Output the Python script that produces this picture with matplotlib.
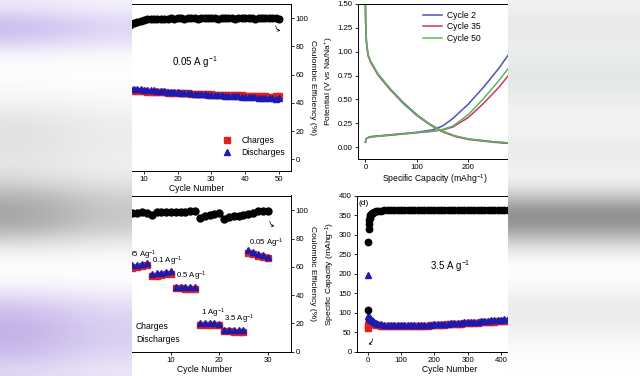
import numpy as np
import matplotlib
matplotlib.use("Agg")
import matplotlib.pyplot as plt
from matplotlib.colors import to_rgb

plt.rcParams['font.family'] = ['Liberation Sans', 'DejaVu Sans']
plt.rcParams['font.size'] = 5.6
plt.rcParams['mathtext.fontset'] = 'custom'
plt.rcParams['mathtext.rm'] = 'Liberation Sans'
plt.rcParams['mathtext.it'] = 'Liberation Sans:italic'
plt.rcParams['axes.linewidth'] = 0.7
plt.rcParams['xtick.major.width'] = 0.6
plt.rcParams['ytick.major.width'] = 0.6
plt.rcParams['xtick.major.size'] = 2.2
plt.rcParams['ytick.major.size'] = 2.2
plt.rcParams['xtick.major.pad'] = 1.5
plt.rcParams['ytick.major.pad'] = 1.5

W, H = 640, 376
RED = "#e3211c"
BLUE = "#1c1ab0"

# --- (a) 0.05 A/g cycling, 50 cycles ---
cycles_a = list(range(1, 51))
ce_a = [62, 80, 87, 91, 93.5, 95, 96.5, 97.5, 98.3, 98.9, 99.3, 99.5, 99.6, 99.6, 99.7,
        99.7, 99.7, 99.8, 99.7, 99.8, 99.8, 99.7, 99.8, 99.8, 99.8, 99.7, 99.8, 99.8, 99.8, 99.8,
        99.8, 99.7, 99.8, 99.8, 99.8, 99.8, 99.7, 99.8, 99.8, 99.8, 99.8, 99.8, 99.7, 99.8, 99.8,
        99.8, 99.8, 99.8, 99.8, 99.7]
charge_a = [40, 46, 48, 48.5, 48.8, 48.8, 48.6, 48.5, 48.3, 48.2, 48.0, 47.9, 47.8, 47.6, 47.5,
            47.4, 47.3, 47.2, 47.1, 47.0, 46.9, 46.8, 46.7, 46.6, 46.5, 46.4, 46.3, 46.2, 46.1, 46.0,
            45.9, 45.8, 45.8, 45.7, 45.6, 45.5, 45.4, 45.4, 45.3, 45.2, 45.1, 45.0, 44.9, 44.8, 44.7,
            44.6, 44.5, 44.4, 44.6, 45.0]
discharge_a = [70, 52, 51, 50.5, 50.3, 50.2, 50.0, 49.8, 49.6, 49.4, 49.2, 49.0, 48.8, 48.6, 48.4,
               48.2, 48.0, 47.8, 47.6, 47.4, 47.2, 47.0, 46.9, 46.7, 46.5, 46.4, 46.2, 46.0, 45.9, 45.7,
               45.6, 45.4, 45.3, 45.1, 45.0, 44.9, 44.7, 44.6, 44.5, 44.3, 44.2, 44.1, 43.9, 43.8, 43.7,
               43.5, 43.4, 43.3, 43.1, 43.6]

# --- (b) voltage profiles ---
cap_dis = [0, 0.5, 2, 5, 10, 25, 50, 75, 100, 125, 150, 175, 200, 250, 300]
v_dis_2 = [1.5, 1.3, 1.1, 0.97, 0.9, 0.76, 0.6, 0.46, 0.34, 0.24, 0.165, 0.115, 0.085, 0.055, 0.035]
v_dis_35 = [1.5, 1.3, 1.1, 0.96, 0.89, 0.75, 0.59, 0.45, 0.33, 0.235, 0.16, 0.11, 0.08, 0.05, 0.03]
v_dis_50 = [1.5, 1.3, 1.1, 0.97, 0.9, 0.76, 0.6, 0.45, 0.335, 0.24, 0.165, 0.115, 0.085, 0.055, 0.035]
cap_ch = [0, 1, 3, 10, 50, 100, 130, 150, 170, 200, 230, 260, 290]
v_ch_2 = [0.05, 0.08, 0.095, 0.11, 0.13, 0.155, 0.18, 0.22, 0.3, 0.45, 0.63, 0.83, 1.06]
v_ch_35 = [0.05, 0.08, 0.095, 0.105, 0.125, 0.15, 0.165, 0.18, 0.21, 0.31, 0.46, 0.63, 0.83]
v_ch_50 = [0.05, 0.08, 0.095, 0.107, 0.127, 0.152, 0.168, 0.185, 0.22, 0.34, 0.51, 0.7, 0.91]
cycle_labels = ["Cycle 2", "Cycle 35", "Cycle 50"]
cycle_colors = ["#4657b5", "#d62f6e", "#57b85c"]

# --- (c) rate capability, 30 cycles ---
cycles_c = list(range(1, 31))
ce_c = [97.5, 98.2, 98.3, 98.5, 98.4, 96.5, 98.5, 98.8, 98.9, 98.8, 98.9, 99.0, 99.1, 99.4, 99.5,
        94.8, 96.2, 96.8, 97.2, 97.8, 94.0, 95.3, 95.8, 96.2, 96.8, 97.6, 98.0, 99.5, 99.6, 99.8]
charge_c = [59.0, 59.5, 60.0, 60.5, 61.0, 53.2, 53.7, 54.2, 54.7, 55.2, 44.8, 44.8, 44.7, 44.7, 44.6,
            19.0, 19.0, 19.0, 18.9, 18.9, 14.3, 14.3, 14.2, 14.2, 14.2, 70.0, 69.0, 68.0, 67.0, 66.0]
discharge_c = [60.5, 61.0, 61.5, 62.0, 62.5, 55.0, 55.5, 56.0, 56.5, 57.0, 45.8, 45.8, 45.8, 45.7, 45.7,
               20.1, 20.1, 20.0, 20.0, 19.9, 15.3, 15.3, 15.2, 15.2, 15.1, 72.0, 70.6, 69.2, 68.1, 67.2]
rate_labels = ["0.05 Ag$^{-1}$", "0.1 Ag$^{-1}$", "0.5 Ag$^{-1}$", "1 Ag$^{-1}$", "3.5 Ag$^{-1}$", "0.05 Ag$^{-1}$"]

# --- (d) 3.5 A/g long cycling ---
cycles_d = [1, 2, 3, 4, 5, 6, 7, 8, 10, 12, 15, 20, 25, 30, 40, 50, 60, 70, 80, 90, 100,
            110, 120, 130, 140, 150, 160, 170, 180, 190, 200, 210, 220, 230, 240, 250,
            260, 270, 280, 290, 300, 310, 320, 330, 340, 350, 360, 370, 380, 390, 400,
            410, 420, 430, 440, 450, 460, 470, 480, 490, 500]
ce_d = [108, 281, 313, 328, 337, 342, 346, 349, 352, 354, 356, 358, 359.5, 360.5, 361.5, 362, 362, 362, 362.5, 362, 362.5,
        362, 362.5, 362, 362.5, 362.5, 362, 362.5, 362.5, 362, 362.5, 362.5, 362, 362.5, 362.5, 362,
        362.5, 362.5, 362, 362.5, 362.5, 362.5, 362, 362.5, 362.5, 362.5, 362, 362.5, 362.5, 362.5, 362.5,
        362, 362.5, 362.5, 362.5, 362, 362.5, 362.5, 362.5, 362.5, 362.5]
charge_d = [60, 68, 72, 74, 75, 75, 75, 74, 73, 72, 71, 70, 69, 68, 67, 66.5, 66, 65.5, 65.5, 65.5, 65.5,
            65.5, 65.5, 65.5, 66, 66, 66.5, 66.5, 67, 67.5, 68, 68.5, 69, 69.5, 70, 70.5,
            71, 71.5, 72, 72.5, 73, 73.5, 74, 74.5, 75, 75.5, 76, 76.5, 77, 77.5, 78,
            78.5, 79, 79.5, 80, 80.5, 81, 81.5, 82, 82.5, 83]
discharge_d = [197, 92, 90, 88, 87, 86, 85, 84, 82, 80, 78, 75.5, 73.5, 72, 70, 69, 68, 67.5, 67.5, 67.5, 67.5,
               67.5, 67.5, 67.5, 67.8, 68, 68.3, 68.6, 69, 69.5, 70, 70.5, 71, 71.5, 72, 72.5,
               73, 73.6, 74.2, 74.8, 75.5, 76, 76.6, 77.2, 77.8, 78.5, 79.2, 79.9, 80.6, 81.3, 82,
               82.5, 83, 83.5, 84, 84.5, 85, 85.5, 86, 86.5, 87]

# blurred backdrop colours (rows from top), left and right of the figure strip
bg_left = ["#eee8f8", "#c6b8ee", "#d4c8f2", "#f8f8fa", "#ffffff", "#fbfbfb", "#f3f3f3", "#e6e6e6",
           "#e0e0e0", "#e2e2e2", "#e6e6e6", "#d8d8d8", "#b4b4b4", "#a2a2a2", "#acacac", "#dedede",
           "#fafafa", "#ffffff", "#f0ecf8", "#d4c6f0", "#c6b4ea", "#c2b0e8", "#cabbec", "#e0d6f4"]
bg_right = ["#f2f2f2", "#e8e8e8", "#ececec", "#eceeed", "#e2e8e6", "#e4e9e7", "#eceeed", "#f4f4f4",
            "#f2f2f2", "#ebebeb", "#efefef", "#f3f3f3", "#cccccc", "#8a8a8a", "#989898", "#d6d6d6",
            "#fafafa", "#ffffff", "#f6f6f6", "#eaeaea", "#ededed", "#f6f6f6", "#fdfdfd", "#ffffff"]


def box(x0, y0, x1, y1):
    # pixel box (y down) -> figure fraction
    return [x0 / W, 1 - y1 / H, (x1 - x0) / W, (y1 - y0) / H]


def right_axis(ax):
    ax.yaxis.tick_right()
    ax.yaxis.set_label_position('right')
    ax.tick_params(axis='y', which='both', left=False, right=True, direction='out')
    ax.tick_params(axis='x', top=False, direction='out')


fig = plt.figure(figsize=(6.4, 3.76), dpi=100)

# (a)
ax_a = fig.add_axes(box(103.4, 4, 290.7, 170.7))
ax_a.plot(cycles_a, ce_a, 'o', color='black', ms=4.8, zorder=3)
ax_a.plot(cycles_a, charge_a, 's', color=RED, ms=4.0, label='Charges', zorder=2)
ax_a.plot(cycles_a, discharge_a, '^', color=BLUE, ms=4.4, label='Discharges', zorder=2)
ax_a.set_xlim(-2, 53.5)
ax_a.set_ylim(-8, 110)
ax_a.set_xticks([10, 20, 30, 40, 50])
ax_a.set_yticks([0, 20, 40, 60, 80, 100])
right_axis(ax_a)
ax_a.set_ylabel('Coulombic Efficiency (%)', rotation=270, labelpad=5, fontsize=6.1)
ax_a.set_xlabel('Cycle Number', labelpad=1, fontsize=6.2)
ax_a.text(18.2, 69, '0.05 A g$^{-1}$', fontsize=7.0, va='center')
ax_a.annotate('', xy=(51.3, 91), xytext=(49.1, 96.7),
              arrowprops=dict(arrowstyle='->', lw=0.5, connectionstyle='arc3,rad=0.6', mutation_scale=4))
ax_a.legend(loc='lower right', bbox_to_anchor=(0.99, 0.06), frameon=False, fontsize=6.2,
            handlelength=1.0, handletextpad=1.2, labelspacing=0.4, borderaxespad=0)

# (b)
ax_b = fig.add_axes(box(357.7, 4, 512, 159))
for v_d, v_c, lab, col in zip([v_dis_2, v_dis_35, v_dis_50], [v_ch_2, v_ch_35, v_ch_50],
                              cycle_labels, cycle_colors):
    ax_b.plot(cap_dis, v_d, color=col, lw=1.1)
    ax_b.plot(cap_ch, v_c, color=col, lw=1.1, label=lab)
ax_b.set_xlim(-15, 285)
ax_b.set_ylim(-0.125, 1.5)
ax_b.set_xticks([0, 100, 200])
ax_b.set_yticks([0, 0.25, 0.5, 0.75, 1.0, 1.25, 1.5])
ax_b.tick_params(direction='out')
ax_b.set_ylabel('Potential (V vs Na/Na$^{+}$)', labelpad=1.5, fontsize=6.1)
ax_b.set_xlabel('Specific Capacity (mAhg$^{-1}$)', labelpad=1, fontsize=6.2)
ax_b.legend(loc='upper right', bbox_to_anchor=(0.82, 0.98), frameon=False, fontsize=6.2,
            handlelength=2.2, handletextpad=0.6, labelspacing=0.3, borderaxespad=0)

# (c)
ax_c = fig.add_axes(box(117.9, 195.5, 290.7, 351.7))
ax_c.plot(cycles_c, ce_c, 'o', color='black', ms=5.0, zorder=3)
ax_c.plot(cycles_c, charge_c, 's', color=RED, ms=4.0, label='Charges', zorder=2)
ax_c.plot(cycles_c, discharge_c, '^', color=BLUE, ms=4.2, label='Discharges', zorder=2)
ax_c.set_xlim(-1, 34.8)
ax_c.set_ylim(0, 110.5)
ax_c.set_xticks([10, 20, 30])
ax_c.set_yticks([0, 20, 40, 60, 80, 100])
right_axis(ax_c)
ax_c.set_ylabel('Coulombic Efficiency (%)', rotation=270, labelpad=5, fontsize=6.1)
ax_c.set_xlabel('Cycle Number', labelpad=1, fontsize=6.2)
label_pos = [(7.0, 68.2, 'right'), (6.0, 64, 'left'), (11.0, 53, 'left'),
             (16.2, 27, 'left'), (21.0, 23, 'left'), (26.2, 77, 'left')]
for (lx, ly, ha), txt in zip(label_pos, rate_labels):
    ax_c.text(lx, ly, txt, fontsize=5.6, ha=ha, va='center')
ax_c.annotate('', xy=(32.0, 88.7), xytext=(30.5, 94.4),
              arrowprops=dict(arrowstyle='->', lw=0.5, connectionstyle='arc3,rad=0.6', mutation_scale=4))
ax_c.legend(loc='lower left', bbox_to_anchor=(116.0 / W, 1 - 347 / H), bbox_transform=fig.transFigure,
            frameon=False, fontsize=6.2, handlelength=1.0, handletextpad=1.0, labelspacing=0.5,
            borderaxespad=0, borderpad=0.3)

# (d)
ax_d = fig.add_axes(box(356.7, 195.5, 542.7, 351.7))
ax_d.plot(cycles_d, ce_d, 'o', color='black', ms=4.6, zorder=3)
ax_d.plot(cycles_d, charge_d, 's', color=RED, ms=4.4, zorder=2)
ax_d.plot(cycles_d, discharge_d, '^', color=BLUE, ms=5.0, zorder=2)
ax_d.set_xlim(-33, 525)
ax_d.set_ylim(0, 400)
ax_d.set_xticks([0, 100, 200, 300, 400, 500])
ax_d.set_yticks([0, 50, 100, 150, 200, 250, 300, 350, 400])
ax_d.tick_params(direction='out')
ax_d.set_ylabel('Specific Capacity (mAhg$^{-1}$)', labelpad=1.5, fontsize=6.1)
ax_d.set_xlabel('Cycle Number', labelpad=1, fontsize=6.2)
ax_d.text(-27, 379, '(d)', fontsize=6.0, va='center')
ax_d.text(187, 218, '3.5 A g$^{-1}$', fontsize=7.0, va='center')
ax_d.annotate('', xy=(-6, 18), xytext=(13, 40),
              arrowprops=dict(arrowstyle='->', lw=0.5, connectionstyle='arc3,rad=-0.6', mutation_scale=4))

# blurred photo backdrop on both sides of the cropped figure
for x0, x1, cols in [(0, 132, bg_left), (508, 640, bg_right)]:
    bg = fig.add_axes(box(x0, 0, x1, H))
    img = np.array([[to_rgb(c), to_rgb(c)] for c in cols])
    if x0 == 0:
        img[:, 1] = img[:, 1] * 0.6 + 0.4
    bg.imshow(img, aspect='auto', interpolation='bicubic', extent=(0, 1, 1, 0))
    bg.set_axis_off()
    bg.set_zorder(10)

fig.savefig('out.png', dpi=100)
